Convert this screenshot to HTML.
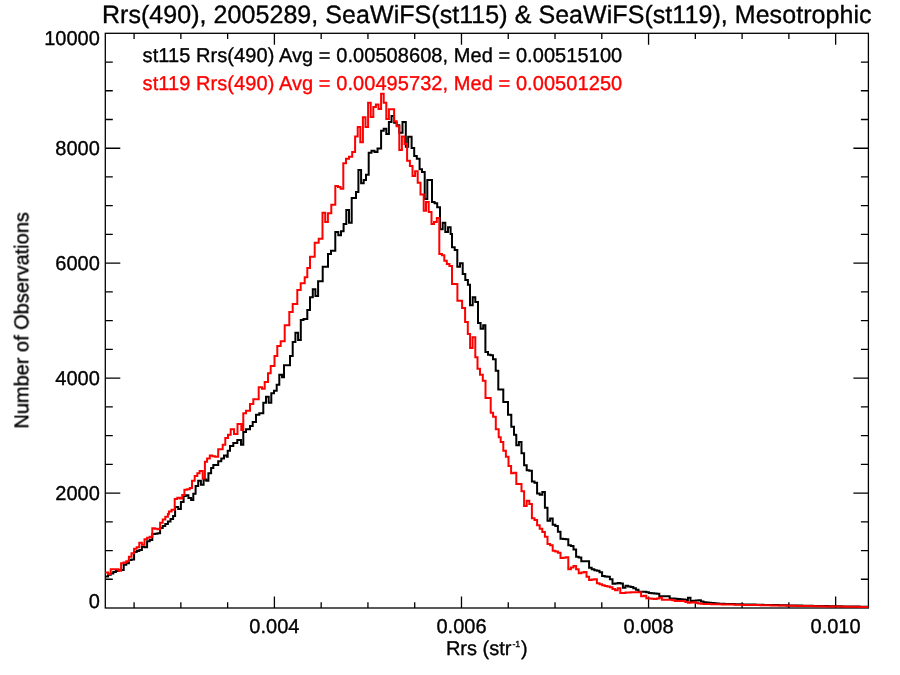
<!DOCTYPE html>
<html><head><meta charset="utf-8"><title>Rrs(490) histogram</title>
<style>
html,body{margin:0;padding:0;background:#fff;}
body{width:900px;height:675px;overflow:hidden;}
svg{display:block;}
text{font-family:"Liberation Sans",sans-serif;font-size:20px;fill:#000;stroke:#000;stroke-width:0.35px;text-rendering:geometricPrecision;}
svg{will-change:transform;}
</style></head><body>
<svg width="900" height="675" viewBox="0 0 900 675">
<rect width="900" height="675" fill="#fff"/>
<mask id="m" maskUnits="userSpaceOnUse" x="0" y="0" width="900" height="675"><rect width="900" height="675" fill="#fff"/></mask>
<g mask="url(#m)">
<text x="101.9" y="22.6" style="font-size:25px" textLength="769.6" lengthAdjust="spacing">Rrs(490), 2005289, SeaWiFS(st115) &amp; SeaWiFS(st119), Mesotrophic</text>
</g>
<g fill="none" stroke="#000" stroke-width="1.3" stroke-linecap="butt">
<rect x="105.3" y="33.3" width="763.1" height="574.7"/>
<path d="M134.09 608.0v-5.7M134.09 33.3v5.7M180.86 608.0v-5.7M180.86 33.3v5.7M227.63 608.0v-5.7M227.63 33.3v5.7M274.40 608.0v-11.4M274.40 33.3v11.4M321.17 608.0v-5.7M321.17 33.3v5.7M367.94 608.0v-5.7M367.94 33.3v5.7M414.71 608.0v-5.7M414.71 33.3v5.7M461.48 608.0v-11.4M461.48 33.3v11.4M508.25 608.0v-5.7M508.25 33.3v5.7M555.02 608.0v-5.7M555.02 33.3v5.7M601.79 608.0v-5.7M601.79 33.3v5.7M648.56 608.0v-11.4M648.56 33.3v11.4M695.33 608.0v-5.7M695.33 33.3v5.7M742.10 608.0v-5.7M742.10 33.3v5.7M788.87 608.0v-5.7M788.87 33.3v5.7M835.64 608.0v-11.4M835.64 33.3v11.4M105.3 579.26h7.5M868.4 579.26h-7.5M105.3 550.53h7.5M868.4 550.53h-7.5M105.3 521.79h7.5M868.4 521.79h-7.5M105.3 493.06h15.0M868.4 493.06h-15.0M105.3 464.32h7.5M868.4 464.32h-7.5M105.3 435.59h7.5M868.4 435.59h-7.5M105.3 406.86h7.5M868.4 406.86h-7.5M105.3 378.12h15.0M868.4 378.12h-15.0M105.3 349.38h7.5M868.4 349.38h-7.5M105.3 320.65h7.5M868.4 320.65h-7.5M105.3 291.91h7.5M868.4 291.91h-7.5M105.3 263.18h15.0M868.4 263.18h-15.0M105.3 234.44h7.5M868.4 234.44h-7.5M105.3 205.71h7.5M868.4 205.71h-7.5M105.3 176.97h7.5M868.4 176.97h-7.5M105.3 148.24h15.0M868.4 148.24h-15.0M105.3 119.50h7.5M868.4 119.50h-7.5M105.3 90.77h7.5M868.4 90.77h-7.5M105.3 62.03h7.5M868.4 62.03h-7.5"/>
</g>
<g mask="url(#m)">
<text x="99.8" y="500.3" text-anchor="end">2000</text><text x="99.8" y="385.3" text-anchor="end">4000</text><text x="99.8" y="270.4" text-anchor="end">6000</text><text x="99.8" y="155.4" text-anchor="end">8000</text><text x="99.8" y="45.3" text-anchor="end">10000</text><text x="99.8" y="608.4" text-anchor="end">0</text>
<text x="274.4" y="633.3" text-anchor="middle">0.004</text><text x="461.5" y="633.3" text-anchor="middle">0.006</text><text x="648.6" y="633.3" text-anchor="middle">0.008</text><text x="835.6" y="633.3" text-anchor="middle">0.010</text>
<text transform="translate(28.3,428.6) rotate(-90)" textLength="216.5" lengthAdjust="spacing">Number of Observations</text>
<text x="445.9" y="654.9">Rrs (str<tspan dy="-8.2" dx="1" style="font-size:8.8px">-1</tspan><tspan dy="8.2" dx="0.8">)</tspan></text>
<text x="142.6" y="62.3" textLength="479.6" lengthAdjust="spacing">st115 Rrs(490) Avg = 0.00508608, Med = 0.00515100</text>
<text x="142.6" y="90.3" textLength="479.6" lengthAdjust="spacing" style="fill:#f00;stroke:#f00">st119 Rrs(490) Avg = 0.00495732, Med = 0.00501250</text>
</g>
<g fill="none" stroke-width="2" stroke-linejoin="miter" stroke-linecap="butt">
<path stroke="#000" d="M105.3 576.5H108.1V574.7H110.7V573.6H113.3V572.0H115.9V571.1H118.5V570.0H121.1V570.0H123.7V564.7H126.3V563.3H128.9V560.0H131.5V559.6H134.1V552.0H136.7V551.0H139.3V550.0H141.9V546.7H144.5V547.3H147.1V541.3H149.7V540.0H152.3V534.0H154.9V533.7H157.5V533.3H160.1V528.1H162.7V526.0H165.3V523.9H167.9V521.5H170.5V518.9H173.1V516.0H175.1V507.0H178.2V509.0H180.9V502.0H183.6V496.0H185.8V495.2H188.4V498.0H191.1V499.9H193.3V493.7H195.6V486.0H198.2V480.8H200.9V484.8H203.6V479.5H206.2V480.8H208.4V473.2H211.1V468.0H213.3V465.0H218.2V461.2H221.3V458.6H224.0V455.4H226.7V456.7H227.7V450.7H230.0V446.0H233.3V443.0H237.3V440.0H241.0V444.7H243.3V432.0H246.0V429.3H250.0V426.0H252.7V422.0H256.0V414.7H259.3V413.3H263.3V402.7H266.0V396.7H268.7V402.7H271.3V393.3H274.0V390.7H276.7V384.7H279.3V374.7H282.0V377.3H284.0V365.3H290.0V356.0H292.7V342.0H295.4V332.7H298.1V340.0H300.8V320.0H303.5V319.0H307.3V310.0H310.0V297.3H312.8V289.3H315.4V296.0H318.1V281.3H322.7V266.7H328.0V254.0H331.0V250.7H335.3V232.0H338.3V235.3H341.0V231.3H343.6V224.0H346.3V210.0H349.0V222.7H351.7V198.0H356.0V192.0H358.4V170.0H361.1V183.3H363.7V180.0H366.0V174.7H368.7V152.7H371.5V150.7H374.5V152.0H377.5V148.5H381.1V130.7H383.7V128.7H386.3V134.0H388.9V122.0H391.5V116.0H394.1V122.7H396.7V125.3H399.3V132.7H402.5V122.0H405.8V146.7H408.2V136.7H411.6V148.0H414.2V156.0H416.8V158.7H419.6V169.3H422.0V172.0H424.7V199.0H427.3V180.0H432.0V202.0H434.6V203.3H437.2V207.3H440.0V229.3H442.7V222.7H445.3V232.0H448.0V227.3H450.6V234.0H452.0V247.3H454.7V250.0H457.3V266.7H460.0V263.3H462.7V274.0H465.3V280.0H467.9V284.7H470.0V305.3H472.7V297.3H475.3V302.0H478.0V323.0H480.6V328.7H483.2V325.3H485.4V352.0H488.0V354.7H490.6V355.3H493.0V359.3H495.7V370.7H498.3V389.5H503.3V402.0H508.0V414.7H511.3V426.7H514.0V434.7H516.0V435.3H516.3V445.2H518.9V442.0H521.5V453.3H524.1V465.3H526.7V470.2H529.3V470.7H531.9V481.5H534.5V482.7H537.1V493.6H539.7V494.7H542.3V492.0H544.9V507.8H547.5V520.7H550.1V518.6H552.7V524.7H555.3V526.0H557.9V531.8H560.5V538.7H563.1V539.0H565.7V539.3H568.3V545.3H570.9V546.0H573.5V549.6H576.1V556.7H578.7V557.5H581.3V561.3H583.9V561.3H586.5V561.3H589.1V567.7H591.7V569.3H594.3V570.3H596.9V570.7H599.5V572.2H602.1V576.0H604.7V576.4H607.3V576.7H609.9V579.3H612.5V583.7H615.1V583.4H617.7V583.0H620.3V583.6H622.9V587.7H625.5V585.7H628.1V586.4H630.7V587.0H633.3V588.3H635.9V589.8H638.5V591.7H641.1V591.7H643.7V591.7H646.3V592.3H648.9V593.0H651.5V593.2H654.1V593.5H656.7V593.7H659.3V596.3H661.9V596.3H664.5V596.3H667.1V596.3H669.7V598.4H672.3V598.6H674.9V598.8H677.5V598.9H680.1V599.2H682.7V599.6H685.3V600.1H687.9V597.7H690.5V601.0H693.1V600.7H695.7V600.5H698.3V600.3H700.9V601.6H703.5V602.3H706.1V602.6H708.7V602.8H711.3V603.0H713.9V603.2H716.5V603.5H719.1V603.7H721.7V603.8H724.3V603.9H726.9V603.9H729.5V604.0H732.1V604.1H734.7V604.2H737.3V604.3H739.9V604.3H742.5V604.4H745.1V604.4H747.7V604.5H750.3V604.6H752.9V604.6H755.5V604.7H758.1V604.7H760.7V604.8H763.3V604.9H765.9V604.9H768.5V605.0H771.1V605.0H773.7V605.1H776.3V605.1H778.9V605.2H781.5V605.3H784.1V605.3H786.7V605.4H789.3V605.4H791.9V605.5H794.5V605.5H797.1V605.6H799.7V605.6H802.3V605.7H804.9V605.7H807.5V605.8H810.1V605.8H812.7V605.9H815.3V605.9H817.9V606.0H820.5V606.0H823.1V606.1H825.7V606.1H828.3V606.2H830.9V606.2H833.5V606.2H836.1V606.3H838.7V606.3H841.3V606.4H843.9V606.4H846.5V606.5H849.1V606.5H851.7V606.5H854.3V606.6H856.9V606.6H859.5V606.7H862.1V606.7H864.7V606.8H867.3V606.8H868.4"/>
<path stroke="#f00" d="M105.3 572.6H108.1V574.0H110.7V569.3H113.3V569.3H115.9V569.3H118.5V570.7H121.1V563.3H123.7V562.4H126.3V561.3H128.9V556.7H131.5V553.3H134.1V548.7H136.7V547.3H139.3V542.7H141.9V544.7H144.5V539.3H147.1V537.7H149.7V536.7H152.3V528.3H154.9V528.8H157.5V529.3H160.1V522.7H162.7V519.5H165.3V516.8H167.9V514.0H168.9V511.5H171.6V509.7H174.7V499.0H177.3V497.7H180.0V498.6H182.2V495.0H184.4V489.7H187.1V489.2H189.8V487.9H192.0V480.8H194.7V475.9H197.3V473.2H199.6V471.0H202.7V478.6H204.9V461.7H207.1V458.6H209.8V455.4H212.4V456.3H215.1V456.8H218.2V449.3H222.7V444.7H225.3V438.0H228.0V434.7H230.7V429.3H234.0V434.0H237.5V424.0H241.3V430.0H243.3V413.3H246.0V410.7H250.0V404.0H253.3V399.3H258.7V387.3H262.0V388.7H264.7V382.0H268.0V373.3H270.7V366.0H274.5V356.0H274.7V356.0H277.3V346.0H280.7V341.3H284.7V325.3H289.3V312.0H292.7V304.0H297.3V290.0H300.7V283.3H304.7V277.3H307.3V268.0H310.0V256.7H314.7V242.7H318.7V238.7H322.5V212.7H325.2V222.0H327.9V213.3H331.3V204.7H335.3V186.0H338.0V187.0H340.6V188.7H343.3V163.3H346.0V158.7H349.0V156.7H352.2V152.0H355.1V136.4H357.7V127.1H360.3V142.2H362.9V117.3H365.5V127.1H368.1V102.7H370.7V116.9H373.3V107.1H375.9V104.4H378.5V108.9H381.1V93.8H383.7V102.7H386.3V119.1H388.9V109.3H391.5V109.3H394.1V121.3H396.7V126.2H399.3V150.0H401.9V136.4H404.5V144.0H407.1V160.7H409.9V166.0H412.5V176.0H415.1V171.3H417.7V182.7H420.5V194.5H423.7V210.7H426.0V202.0H428.7V212.0H431.5V224.0H434.0V222.0H436.8V218.0H439.3V254.0H441.9V255.3H444.3V260.7H446.8V264.0H449.4V266.0H452.0V284.0H457.4V300.7H462.1V308.0H465.1V322.0H467.8V334.0H470.1V348.0H472.6V337.3H475.3V357.3H477.5V368.7H480.0V374.7H482.8V380.7H485.5V398.0H490.7V412.7H493.1V416.7H495.8V429.3H498.7V437.3H500.7V442.0H503.3V450.7H505.9V456.7H508.5V466.0H511.1V473.3H513.7V472.7H516.3V484.0H518.9V484.0H521.5V491.3H524.1V506.0H526.7V500.7H529.3V504.0H531.9V518.2H534.5V520.0H537.1V525.3H539.7V528.7H542.3V532.0H544.9V536.7H547.5V544.0H550.1V545.2H552.7V550.7H555.3V551.5H557.9V552.7H560.5V558.0H563.1V557.7H565.7V557.3H568.3V569.3H570.9V567.5H573.5V566.0H576.1V569.3H578.7V573.3H581.3V572.6H583.9V572.0H586.5V576.7H589.1V580.0H591.7V579.6H594.3V579.3H596.9V583.3H599.5V584.2H602.1V585.3H604.7V586.0H607.3V586.6H609.9V587.3H612.5V588.9H615.1V590.3H617.7V588.3H620.3V593.0H622.9V592.9H625.5V592.6H628.1V592.4H630.7V592.3H633.3V592.3H635.9V592.3H638.5V592.3H641.1V596.3H643.7V595.7H646.3V598.3H648.9V598.4H651.5V598.7H654.1V599.0H656.7V598.4H659.3V597.7H661.9V599.7H664.5V599.7H667.1V599.7H669.7V599.7H672.3V600.2H674.9V601.0H677.5V601.0H680.1V601.0H682.7V601.0H685.3V602.0H687.9V602.8H690.5V602.5H693.1V602.3H695.7V602.9H698.3V603.4H700.9V603.7H703.5V603.9H706.1V604.0H708.7V604.1H711.3V604.2H713.9V604.3H716.5V604.3H719.1V604.3H721.7V604.4H724.3V604.4H726.9V604.5H729.5V604.6H732.1V604.6H734.7V604.7H737.3V604.8H739.9V604.8H742.5V604.9H745.1V604.9H747.7V605.0H750.3V605.0H752.9V605.0H755.5V605.1H758.1V605.1H760.7V605.2H763.3V605.2H765.9V605.3H768.5V605.3H771.1V605.4H773.7V605.4H776.3V605.5H778.9V605.5H781.5V605.6H784.1V605.6H786.7V605.7H789.3V605.7H791.9V605.8H794.5V605.8H797.1V605.9H799.7V605.9H802.3V606.0H804.9V606.0H807.5V606.1H810.1V606.1H812.7V606.2H815.3V606.2H817.9V606.3H820.5V606.3H823.1V606.4H825.7V606.4H828.3V606.4H830.9V606.5H833.5V606.5H836.1V606.6H838.7V606.6H841.3V606.6H843.9V606.7H846.5V606.7H849.1V606.7H851.7V606.8H854.3V606.8H856.9V606.8H859.5V606.9H862.1V606.9H864.7V607.0H867.3V607.0H868.4"/>
</g>
</svg>
</body></html>
